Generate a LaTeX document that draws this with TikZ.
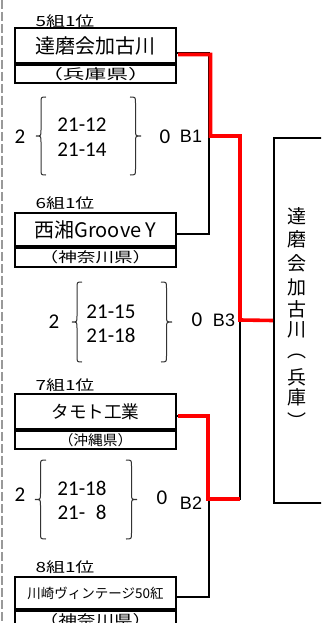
\documentclass[tikz,border=0pt]{standalone}
\usepackage{fontspec}
\usepackage{graphicx}
\setmainfont{Noto Sans CJK JP}
\newfontfamily\scorefont{Carlito}
\newfontfamily\arialfont{Liberation Sans}
\usetikzlibrary{calc}
\newcommand{\curlyb}[4]{% #1 tip x, #2 end x, #3 top y, #4 bottom y
  \pgfmathsetmacro\bxm{(#1+#2)/2}%
  \pgfmathsetmacro\bcy{(#3+#4)/2}%
  \draw[brc] (#2,#3) .. controls (\bxm,#3) .. (\bxm,#3+6) -- (\bxm,\bcy-6)
    .. controls (\bxm,\bcy) .. (#1,\bcy) .. controls (\bxm,\bcy) .. (\bxm,\bcy+6)
    -- (\bxm,#4-6) .. controls (\bxm,#4) .. (#2,#4);}
\begin{document}
\begin{tikzpicture}[x=1pt,y=-1pt,
  cell/.style={draw, line width=2pt, minimum width=161pt, inner sep=0pt, anchor=north},
  nm/.style={cell, font=\fontsize{20}{24}\selectfont},
  sub/.style={cell, font=\fontsize{14}{16}\selectfont},
  grp/.style={inner sep=0pt, font=\fontsize{14}{16}\selectfont},
  sc/.style={inner sep=0pt, font=\scorefont\fontsize{21}{24}\selectfont},
  bl/.style={inner sep=0pt, font=\arialfont\fontsize{18}{20}\selectfont},
  vt/.style={inner sep=0pt, font=\fontsize{19}{22}\selectfont},
  blk/.style={line width=1.8pt, black},
  redl/.style={line width=3.6pt, red, line join=miter},
  brc/.style={line width=1pt, black!80},
]
\useasboundingbox (0,0) rectangle (321,623);
\clip (0,0) rectangle (321,623);

% left dashed border
\draw[black!40, line width=2pt, dash pattern=on 9pt off 3pt] (1.5,0) -- (1.5,623);

% group labels
\node[grp] (g1) at (65,21) {\scalebox{1.35}[1]{5組1位}};
\node[grp] (g2) at (65,203) {\scalebox{1.35}[1]{6組1位}};
\node[grp] (g3) at (65,385) {\scalebox{1.35}[1]{7組1位}};
\node[grp] (g4) at (65,567) {\scalebox{1.35}[1]{8組1位}};

% team boxes
\node[nm, minimum height=35pt] (t1) at (95.5,27) {達磨会加古川};
\node[sub, minimum height=18pt] (s1) at (t1.south) {\scalebox{1.55}[1]{（兵庫県）}};
\node[nm, minimum height=33pt] (t2) at (95.5,212) {西湘Groove Y};
\node[sub, minimum height=19pt] (s2) at (t2.south) {\scalebox{1.33}[1]{（神奈川県）}};
\node[nm, minimum height=35pt, font=\fontsize{17.6}{20}\selectfont] (t3) at (95.5,393) {タモト工業};
\node[sub, minimum height=18pt] (s3) at (t3.south) {\scalebox{1.05}[1]{（沖縄県）}};
\node[nm, minimum height=32pt, font=\fontsize{13.5}{16}\selectfont] (t4) at (95.5,576) {川崎ヴィンテージ50紅};
\node[sub, minimum height=19pt] (s4) at (t4.south) {\scalebox{1.33}[1]{（神奈川県）}};

% scores block 1
\node[sc] (w1) at (20,137) {2};
\node[sc] (a1) at (82,125) {21-12};
\node[sc] (b1) at (82,150) {21-14};
\node[sc] (l1) at (165,137) {0};
\node[bl] (B1) at (191,136) {B1};
\curlyb{36}{46}{97}{175}
\curlyb{141}{130}{97}{175}

% scores block 2
\node[sc] (w2) at (54,322) {2};
\node[sc] (a2) at (111,312) {21-15};
\node[sc] (b2) at (111,335) {21-18};
\node[sc] (l2) at (197,320) {0};
\node[bl] (B3) at (224,320) {B3};
\curlyb{72}{82}{282}{362}
\curlyb{172}{161}{282}{362}

% scores block 3
\node[sc] (w3) at (20,495) {2};
\node[sc] (a3) at (82,488) {21-18};
\node[sc] (b3) at (82,512) {21- \kern0.28em 8};
\node[sc] (l3) at (162,498) {0};
\node[bl] (B2) at (191,503) {B2};
\curlyb{35}{46}{460}{539}
\curlyb{137}{126}{460}{539}

% final box
\node[draw, line width=2pt, minimum width=70pt, minimum height=365pt, anchor=north west, inner sep=0pt] (F) at (273,137) {};
\foreach \ch/\yy [count=\i] in {達/216,磨/239,会/263,加/287,古/309,川/330,︵/356,兵/377,庫/397,︶/421}
  \node[vt] (v\i) at (297,\yy) {\ch};

% bracket coordinates
\coordinate (p1) at ($(t1.east)+(0,7.5)$);
\coordinate (p2) at ($(t2.east)+(0,4.5)$);
\coordinate (p3) at ($(t3.east)+(0,4.5)$);
\coordinate (p4) at ($(t4.east)+(0,4)$);
\coordinate (m1) at (209,135);
\coordinate (m2) at (209,499);
\coordinate (m3) at (240,320);

% black bracket lines
\draw[blk] (p1) -| (m1);
\draw[blk] (p2) -| (m1);
\draw[blk] (p3) -| (m2);
\draw[blk] (p4) -| (m2);
\draw[blk] (m1) -| (m3);
\draw[blk] (m2) -| (m3);
\draw[blk] (m3) -- (F.west);

% winner path (red)
\draw[redl] ($(p1)+(1,1.5)$) -| ($(m1)+(1.5,1)$) -| (m3) -- (F.west);
\draw[redl] ($(p3)+(1,0)$) -| ($(m2)+(-1,0)$) -- (m2 -| m3);
\end{tikzpicture}
\end{document}
